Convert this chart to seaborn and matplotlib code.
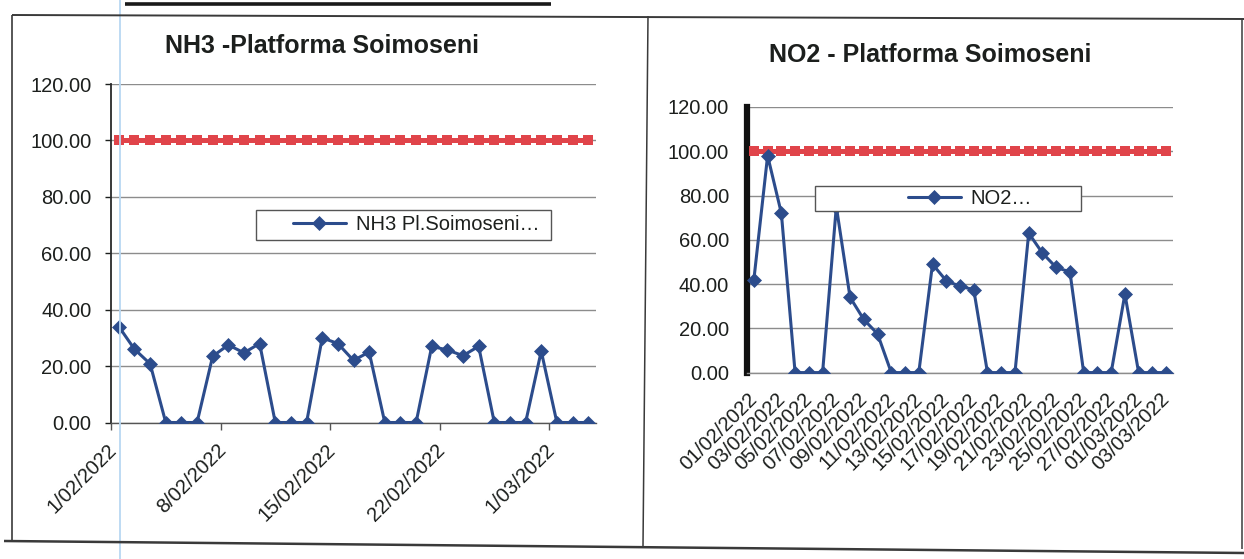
import pandas as pd
import matplotlib
matplotlib.use("Agg")
import matplotlib.pyplot as plt
import seaborn as sns
from matplotlib.lines import Line2D
from matplotlib.patches import Rectangle
from matplotlib.ticker import FormatStrFormatter
from matplotlib.transforms import ScaledTranslation

# ---- data (01/02/2022 .. 03/03/2022) ----
days = pd.date_range("2022-02-01", "2022-03-03", freq="D")

nh3 = [34.0, 26.0, 20.8, 0, 0, 0, 23.5, 27.5, 24.7, 28.0, 0, 0, 0,
       30.0, 28.0, 22.0, 25.0, 0, 0, 0, 27.0, 25.7, 23.7, 27.0, 0, 0, 0,
       25.3, 0, 0, 0]
no2 = [42.0, 98.0, 72.0, 0, 0, 0, 75.0, 34.0, 24.0, 17.5, 0, 0, 0,
       49.0, 41.5, 39.0, 37.5, 0, 0, 0, 63.0, 54.0, 47.5, 45.5, 0, 0, 0,
       35.5, 0, 0, 0]
limit_value = 100.0

nh3_ticklabels = ["1/02/2022", "8/02/2022", "15/02/2022", "22/02/2022", "1/03/2022"]
no2_ticklabels = ["01/02/2022", "03/02/2022", "05/02/2022", "07/02/2022",
                  "09/02/2022", "11/02/2022", "13/02/2022", "15/02/2022",
                  "17/02/2022", "19/02/2022", "21/02/2022", "23/02/2022",
                  "25/02/2022", "27/02/2022", "01/03/2022", "03/03/2022"]

nh3_title = "NH3 -Platforma Soimoseni"
no2_title = "NO2 - Platforma Soimoseni"
nh3_legend = "NH3 Pl.Soimoseni\u2026"
no2_legend = "NO2\u2026"

df = pd.DataFrame({
    "idx": range(len(days)),
    "date": days,
    "nh3": nh3,
    "no2": no2,
    "limit": [limit_value] * len(days),
})

BLUE = "#2c4c8c"
RED = "#e0444a"
GRID = "#8c8c8c"
TXT = "#1c1f1d"

sns.set_theme(style="white")
plt.rcParams["font.family"] = ["Liberation Sans", "DejaVu Sans"]

W, H = 1244, 559
fig = plt.figure(figsize=(W / 100, H / 100), dpi=100)
fig.patch.set_facecolor("white")


def px(x, y):
    return x / W, 1 - y / H


def axes_box(left, top, right, bottom):
    x0, y1 = px(left, top)
    x1, y0 = px(right, bottom)
    return [x0, y0, x1 - x0, y1 - y0]


ax1 = fig.add_axes(axes_box(111, 84, 596, 422.5))
ax2 = fig.add_axes(axes_box(747, 107, 1173, 372.6))


def draw_panel(ax, col):
    sns.lineplot(data=df, x="idx", y="limit", ax=ax, color=RED, lw=3.6,
                 marker="s", markersize=7.5, mec=RED, mew=0, zorder=3,
                 legend=False)
    sns.lineplot(data=df, x="idx", y=col, ax=ax, color=BLUE, lw=2.2,
                 marker="D", markersize=7, mec=BLUE, mew=0.5, zorder=4,
                 legend=False)
    blue_line = ax.lines[-1]
    ax.set_xlim(-0.5, len(df) - 0.5)
    ax.set_ylim(0, 120)
    ax.set_yticks(range(0, 121, 20))
    ax.yaxis.set_major_formatter(FormatStrFormatter("%.2f"))
    ax.yaxis.grid(True, color=GRID, lw=1.0)
    ax.set_axisbelow(True)
    ax.set_xlabel("")
    ax.set_ylabel("")
    for s in ["top", "right"]:
        ax.spines[s].set_visible(False)
    ax.tick_params(axis="y", labelsize=14.5, labelcolor=TXT, colors=TXT)
    return blue_line


# ---- left panel: NH3 ----
l1 = draw_panel(ax1, "nh3")
ax1.spines["left"].set_color("#2a2a2a")
ax1.spines["left"].set_linewidth(1.3)
ax1.spines["bottom"].set_color("#555555")
ax1.spines["bottom"].set_linewidth(1.0)
ax1.set_xticks([i * 7 - 0.5 for i in range(len(nh3_ticklabels))])
ax1.set_xticklabels(nh3_ticklabels, rotation=45, ha="right", va="top",
                    rotation_mode="anchor", fontsize=14.5, color=TXT)
ax1.tick_params(axis="x", length=5, width=1, color="#555555", pad=8,
                bottom=True)
ax1.tick_params(axis="y", length=4, width=1, pad=10, left=True)
for lab in ax1.get_xticklabels():
    lab.set_transform(lab.get_transform() + ScaledTranslation(-0.04, 0, fig.dpi_scale_trans))

ax1.add_patch(Rectangle((0.299, 0.540), 0.608, 0.089, transform=ax1.transAxes,
                        facecolor="white", edgecolor="#555555", lw=1.0, zorder=6))
lg1 = ax1.legend(handles=[l1], labels=[nh3_legend], loc="center left",
                 bbox_to_anchor=(0.355, 0.585), frameon=False, fontsize=14.5,
                 handlelength=2.6, handletextpad=0.5, borderpad=0)
lg1.set_zorder(7)
for t in lg1.get_texts():
    t.set_color(TXT)

# ---- right panel: NO2 ----
l2 = draw_panel(ax2, "no2")
ax2.spines["left"].set_color("#111111")
ax2.spines["left"].set_linewidth(4.5)
ax2.spines["bottom"].set_color(GRID)
ax2.spines["bottom"].set_linewidth(1.0)
ax2.set_xticks(list(range(0, len(df), 2)))
ax2.set_xticklabels(no2_ticklabels, rotation=45, ha="right", va="top",
                    rotation_mode="anchor", fontsize=14.5, color=TXT)
ax2.tick_params(axis="x", length=0, pad=12)
ax2.tick_params(axis="y", length=0, pad=13)
for lab in ax2.get_xticklabels():
    lab.set_transform(lab.get_transform() + ScaledTranslation(-0.06, 0, fig.dpi_scale_trans))

ax2.add_patch(Rectangle((0.160, 0.610), 0.624, 0.094, transform=ax2.transAxes,
                        facecolor="white", edgecolor="#555555", lw=1.0, zorder=6))
lg2 = ax2.legend(handles=[l2], labels=[no2_legend], loc="center left",
                 bbox_to_anchor=(0.355, 0.657), frameon=False, fontsize=14.5,
                 handlelength=2.6, handletextpad=0.5, borderpad=0)
lg2.set_zorder(7)
for t in lg2.get_texts():
    t.set_color(TXT)

# ---- titles ----
fig.text(*px(322, 46), nh3_title, ha="center", va="center", fontsize=18,
         fontweight="bold", color=TXT)
fig.text(*px(930, 55), no2_title, ha="center", va="center", fontsize=18,
         fontweight="bold", color=TXT)

# ---- page frame of the scanned report ----
def frame_line(p0, p1, lw=1.2, color="#3a3a3a"):
    (x0, y0), (x1, y1) = px(*p0), px(*p1)
    fig.add_artist(Line2D([x0, x1], [y0, y1], transform=fig.transFigure,
                          color=color, lw=lw, solid_capstyle="butt"))

frame_line((120, 0), (120, H), lw=1.3, color="#b9d8f2")
frame_line((125, 4), (551, 4), lw=2.6, color="#1a1a1a")
frame_line((12, 15), (W, 19), lw=1.4)
frame_line((12, 15), (12, 542), lw=1.2)
frame_line((4, 541), (W, 553), lw=1.8)
frame_line((648, 16), (643, 546), lw=1.1)
frame_line((1242, 19), (1242, 549), lw=1.1)

fig.savefig("out.png", dpi=100, facecolor="white")
